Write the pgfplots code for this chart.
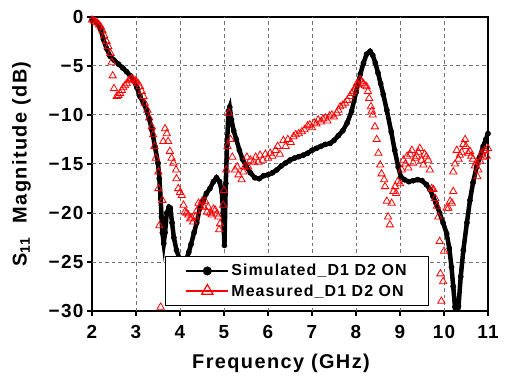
\documentclass[border=0pt]{standalone}
\usepackage{fontspec}
\setmainfont{Liberation Sans}[LetterSpace=7]
\usepackage{pgfplots}
\pgfplotsset{compat=1.18}
\definecolor{gridgray}{rgb}{0.45,0.45,0.45}
\pgfplotsset{gridline/.style={forget plot, color=gridgray, line width=1bp, dash pattern=on 3.5bp off 3bp}}
\begin{document}
\begin{tikzpicture}
\begin{axis}[
  scale only axis, width=396bp, height=294bp,
  xmin=2, xmax=11, ymin=-30, ymax=0,
  xtick={2,3,4,5,6,7,8,9,10,11},
  xticklabels={2,3,4,5,6,7,8,9,10,11},
  ytick={-30,-25,-20,-15,-10,-5,0},
  yticklabels={−30,−25,−20,−15,−10,−5,0},
  tick align=outside,
  xtick pos=left, ytick pos=left,
  major tick length=5bp,
  tick style={black, line width=1.5bp},
  axis line style={line width=2bp},
  tick label style={font=\bfseries\fontsize{19}{22}\selectfont},
  xticklabel style={yshift=-6bp},
  xlabel={Frequency (GHz)},
  ylabel={S\textsubscript{11}\ \ Magnitude (dB)},
  label style={font=\bfseries\fontsize{20}{24}\selectfont},
  xlabel style={yshift=-8bp, xshift=-9bp},
  ylabel style={yshift=11bp},
  legend cell align=left,
  legend image code/.code={\draw[mark repeat=2,mark phase=2,#1] plot coordinates {(0bp,0bp) (21bp,0bp) (42bp,0bp)};},
  legend style={at={(rel axis cs:0.184,0.017)}, anchor=south west, draw=black, line width=1bp, fill=white,
    font=\bfseries\fontsize{16}{19}\selectfont, inner xsep=20bp, inner ysep=6bp, row sep=3bp},
]
\addlegendimage{black, line width=2bp, mark=*, mark size=3.5bp}
\addlegendentry{Simulated\_D1 D2 ON}
\addlegendimage{red, line width=1.5bp, mark=triangle, mark size=6.5bp, mark options={fill=white, line width=1.2bp}}
\addlegendentry{Measured\_D1 D2 ON}

% grid lines
\addplot[gridline] coordinates {(3,-30) (3,0)};
\addplot[gridline] coordinates {(4,-30) (4,0)};
\addplot[gridline] coordinates {(5,-30) (5,0)};
\addplot[gridline] coordinates {(6,-30) (6,0)};
\addplot[gridline] coordinates {(7,-30) (7,0)};
\addplot[gridline] coordinates {(8,-30) (8,0)};
\addplot[gridline] coordinates {(9,-30) (9,0)};
\addplot[gridline] coordinates {(10,-30) (10,0)};
\addplot[gridline] coordinates {(2,-25) (11,-25)};
\addplot[gridline] coordinates {(2,-20) (11,-20)};
\addplot[gridline] coordinates {(2,-15) (11,-15)};
\addplot[gridline] coordinates {(2,-10) (11,-10)};
\addplot[gridline] coordinates {(2,-5) (11,-5)};
% tick marks
\addplot[forget plot, only marks, mark=|, mark size=2.5bp, mark options={black, line width=1.5bp, yshift=-2.5bp}] coordinates {(2,-30) (3,-30) (4,-30) (5,-30) (6,-30) (7,-30) (8,-30) (9,-30) (10,-30) (11,-30)};
\addplot[forget plot, only marks, mark=-, mark size=2.5bp, mark options={black, line width=1.5bp, xshift=-2.5bp}] coordinates {(2,-30) (2,-25) (2,-20) (2,-15) (2,-10) (2,-5) (2,0)};

\addplot[forget plot, black, line width=4.5bp, mark=*, mark size=2.6bp, mark options={solid, line width=0.5bp}] coordinates {
(2.00,-0.3) (2.10,-0.5) (2.20,-1.3) (2.26,-2.3) (2.33,-3.2) (2.41,-4.0) (2.50,-4.4) (2.60,-4.8) (2.70,-5.2) (2.79,-5.6) (2.87,-6.0) (2.94,-6.4) (3.02,-7.2) (3.09,-8.1) (3.17,-8.8) (3.24,-9.5) (3.30,-10.4) (3.36,-11.5) (3.43,-13.2) (3.50,-14.9)
(3.53,-16.5) (3.56,-18.5) (3.58,-20.4) (3.60,-22.0) (3.63,-23.1) (3.66,-22.0) (3.70,-20.0) (3.75,-19.4) (3.78,-19.5) (3.82,-21.0) (3.86,-22.5) (3.92,-23.8) (4.00,-24.8) (4.10,-25.3) (4.20,-24.0) (4.25,-23.2) (4.32,-22.0) (4.38,-21.0) (4.45,-19.5) (4.52,-18.8) (4.60,-18.0) (4.68,-17.5) (4.76,-16.8) (4.83,-16.4) (4.90,-16.8) (4.95,-17.8) (4.98,-20.0) (5.01,-23.3) (5.04,-17.0) (5.07,-13.0) (5.10,-9.6) (5.13,-9.2) (5.17,-10.5) (5.22,-11.6) (5.28,-12.5) (5.35,-13.6) (5.42,-14.5) (5.50,-15.2) (5.60,-15.9) (5.70,-16.4) (5.80,-16.5) (5.90,-16.2) (6.00,-16.1) (6.10,-15.9) (6.20,-15.6) (6.30,-15.2) (6.40,-14.9) (6.50,-14.6) (6.60,-14.4) (6.70,-14.25) (6.80,-14.1) (6.90,-13.9) (7.00,-13.6) (7.10,-13.4) (7.20,-13.2) (7.30,-13.0) (7.41,-12.9) (7.50,-12.6) (7.60,-12.1) (7.70,-11.6) (7.80,-10.8) (7.90,-9.6) (8.00,-7.7) (8.10,-5.8) (8.17,-4.7) (8.24,-3.8) (8.32,-3.5) (8.38,-3.9) (8.44,-4.7) (8.50,-5.7) (8.56,-6.8) (8.62,-7.9) (8.70,-9.5) (8.80,-11.7) (8.88,-13.6) (8.96,-15.3) (9.02,-16.3) (9.10,-16.6) (9.20,-16.8) (9.30,-16.7) (9.40,-16.6) (9.50,-16.7) (9.60,-17.1) (9.68,-17.6) (9.75,-18.3) (9.82,-19.0) (9.90,-20.0) (9.98,-21.0) (10.06,-22.1) (10.12,-23.6) (10.17,-25.5) (10.21,-27.5) (10.25,-29.6) (10.29,-31.5) (10.33,-29.5) (10.38,-26.5) (10.44,-23.8) (10.52,-21.0) (10.59,-18.7) (10.66,-16.9) (10.74,-15.3) (10.82,-14.2) (10.89,-13.2) (10.95,-12.5) (11.00,-11.9)
};

\addplot[forget plot, red, only marks, mark=triangle, mark size=4.2bp, mark options={line width=0.8bp}] coordinates {
(2.00,-0.3) (2.04,-0.4) (2.08,-0.5) (2.12,-0.6) (2.16,-0.8) (2.20,-1.0) (2.24,-1.4) (2.28,-1.9) (2.33,-2.5) (2.37,-3.0) (2.42,-3.7) (2.45,-4.6) (2.47,-6.0) (2.50,-7.3) (2.56,-8.1) (2.60,-8.0) (2.64,-7.8) (2.68,-7.5) (2.71,-7.2) (2.75,-7.0) (2.79,-6.8) (2.83,-6.5) (2.86,-6.4) (2.90,-6.3) (2.94,-6.4) (2.98,-6.5) (3.01,-6.6) (3.05,-6.8) (3.09,-7.1) (3.13,-7.6) (3.17,-8.1) (3.20,-8.8) (3.26,-9.5) (3.30,-10.3) (3.36,-11.2) (3.39,-12.0) (3.42,-13.2) (3.45,-14.4) (3.51,-15.8) (3.51,-17.5) (3.53,-21.3) (3.56,-29.6) (3.60,-18.7) (3.62,-12.7) (3.66,-11.4) (3.70,-11.9) (3.73,-12.7) (3.77,-13.7) (3.81,-14.4) (3.85,-14.9) (3.91,-15.6) (3.92,-16.5) (3.96,-17.5) (4.00,-17.9) (4.04,-18.2) (4.08,-19.2) (4.11,-19.9) (4.15,-20.0) (4.19,-20.2) (4.23,-20.6) (4.27,-20.5) (4.30,-20.9) (4.35,-20.4) (4.38,-19.8) (4.42,-19.0) (4.46,-19.3) (4.50,-18.8) (4.54,-19.4) (4.57,-18.8) (4.61,-19.9) (4.64,-19.4) (4.68,-20.0) (4.72,-20.2) (4.76,-19.6) (4.80,-19.7) (4.84,-20.1) (4.87,-20.4) (4.91,-21.1) (4.89,-21.7) (4.98,-19.2) (5.00,-17.7) (5.05,-15.6) (5.08,-13.2) (5.11,-9.8) (5.15,-12.5) (5.19,-14.3) (5.25,-15.6) (5.30,-15.3) (5.33,-16.1) (5.40,-16.6) (5.44,-15.8) (5.47,-15.3) (5.52,-14.3) (5.55,-15.3) (5.60,-14.6) (5.67,-14.8) (5.72,-14.3) (5.78,-14.8) (5.82,-14.1) (5.88,-14.6) (5.94,-14.0) (6.00,-14.4) (6.05,-13.9) (6.10,-14.2) (6.17,-13.6) (6.22,-13.2) (6.27,-14.0) (6.35,-12.6) (6.40,-13.2) (6.45,-12.5) (6.52,-12.8) (6.58,-12.2) (6.63,-12.0) (6.70,-11.9) (6.77,-11.7) (6.83,-11.5) (6.90,-11.1) (6.95,-11.0) (7.00,-11.3) (7.05,-10.8) (7.10,-10.9) (7.14,-10.5) (7.20,-10.7) (7.25,-10.4) (7.30,-10.3) (7.35,-10.6) (7.40,-10.1) (7.45,-10.0) (7.50,-10.2) (7.56,-9.8) (7.60,-9.5) (7.64,-9.15) (7.70,-9.0) (7.75,-8.8) (7.80,-8.5) (7.86,-8.1) (7.90,-7.8) (7.94,-7.6) (7.98,-7.2) (8.02,-6.8) (8.05,-6.9) (8.09,-6.4) (8.13,-6.6) (8.17,-6.8) (8.20,-7.0) (8.24,-7.1) (8.27,-7.6) (8.30,-8.3) (8.34,-9.15) (8.36,-9.6) (8.38,-10.0) (8.43,-11.2) (8.47,-12.5) (8.51,-13.9) (8.55,-15.1) (8.58,-16.0) (8.64,-16.6) (8.66,-17.3) (8.70,-18.8) (8.73,-20.4) (8.77,-21.2) (8.81,-19.0) (8.85,-17.8) (8.89,-17.3) (8.91,-18.0) (8.95,-16.8) (9.00,-17.0) (9.04,-15.6) (9.08,-14.6) (9.12,-15.0) (9.16,-14.2) (9.19,-15.4) (9.23,-14.0) (9.27,-13.6) (9.30,-14.9) (9.34,-14.4) (9.38,-14.2) (9.42,-13.8) (9.45,-13.4) (9.49,-14.6) (9.53,-15.1) (9.56,-14.0) (9.60,-14.25) (9.64,-14.6) (9.68,-15.6) (9.72,-17.5) (9.76,-17.6) (9.80,-18.5) (9.84,-19.3) (9.87,-20.4) (9.90,-22.9) (9.92,-26.2) (9.94,-29.0) (9.98,-27.0) (10.00,-23.9) (10.06,-19.5) (10.10,-19.5) (10.14,-18.8) (10.18,-19.0) (10.21,-17.8) (10.21,-15.8) (10.25,-15.0) (10.29,-13.6) (10.33,-14.5) (10.36,-14.1) (10.40,-13.8) (10.44,-13.0) (10.48,-12.5) (10.50,-13.2) (10.55,-13.9) (10.59,-13.7) (10.62,-14.2) (10.66,-14.5) (10.70,-15.2) (10.74,-14.8) (10.76,-16.3) (10.78,-15.6) (10.82,-14.7) (10.86,-13.9) (10.90,-14.3) (10.93,-13.6) (10.97,-14.2) (11.00,-13.4)
};
\coordinate (sw) at (rel axis cs:0,0);
\coordinate (ne) at (rel axis cs:1,1);
\end{axis}
\path ([xshift=-92bp,yshift=-63bp]sw) rectangle ([xshift=17bp,yshift=17bp]ne);
\end{tikzpicture}
\end{document}
